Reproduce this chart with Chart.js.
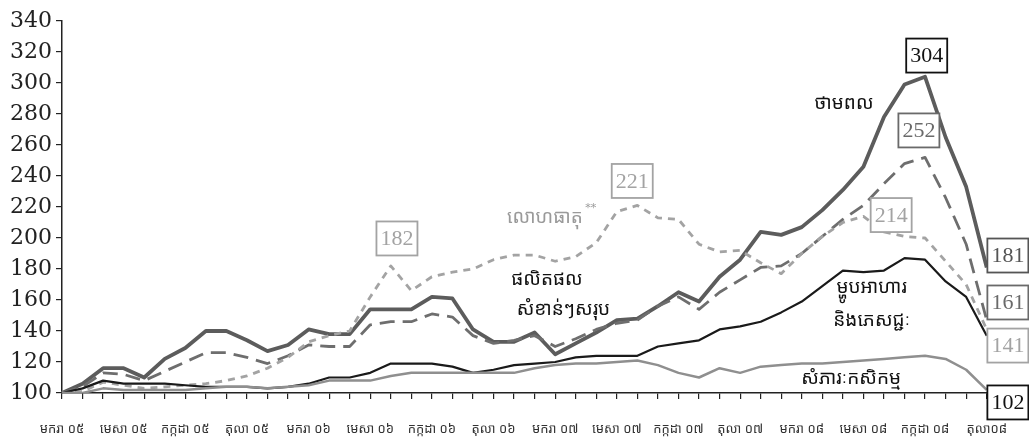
<!DOCTYPE html>
<html>
<head>
<meta charset="utf-8">
<script src="https://cdn.jsdelivr.net/npm/chart.js@4.4.1/dist/chart.umd.min.js"></script>
<style>
  body { margin: 0; background: #fff; }
  #wrap { width: 1029px; height: 443px; position: relative; }
</style>
</head>
<body>
<div id="wrap"><canvas id="chart"></canvas></div>
<script>
// months Jan 05 .. Oct 08, one point per month
const categories = [
  "មករា ០៥", "កុម្ភៈ ០៥", "មីនា ០៥", "មេសា ០៥", "ឧសភា ០៥", "មិថុនា ០៥",
  "កក្កដា ០៥", "សីហា ០៥", "កញ្ញា ០៥", "តុលា ០៥", "វិច្ឆិកា ០៥", "ធ្នូ ០៥",
  "មករា ០៦", "កុម្ភៈ ០៦", "មីនា ០៦", "មេសា ០៦", "ឧសភា ០៦", "មិថុនា ០៦",
  "កក្កដា ០៦", "សីហា ០៦", "កញ្ញា ០៦", "តុលា ០៦", "វិច្ឆិកា ០៦", "ធ្នូ ០៦",
  "មករា ០៧", "កុម្ភៈ ០៧", "មីនា ០៧", "មេសា ០៧", "ឧសភា ០៧", "មិថុនា ០៧",
  "កក្កដា ០៧", "សីហា ០៧", "កញ្ញា ០៧", "តុលា ០៧", "វិច្ឆិកា ០៧", "ធ្នូ ០៧",
  "មករា ០៨", "កុម្ភៈ ០៨", "មីនា ០៨", "មេសា ០៨", "ឧសភា ០៨", "មិថុនា ០៨",
  "កក្កដា ០៨", "សីហា ០៨", "កញ្ញា ០៨", "តុលា០៨"
];

const yTicks = [100, 120, 140, 160, 180, 200, 220, 240, 260, 280, 300, 320, 340];

// ថាមពល (energy)
const energy = [
  100, 106, 116, 116, 110, 122, 129, 140, 140, 134, 127, 131,
  141, 138, 138, 154, 154, 154, 162, 161, 141, 133, 133, 139,
  125, 132, 139, 147, 148, 156, 165, 159, 175, 186, 204, 202,
  207, 218, 231, 246, 278, 299, 304, 265, 233, 181
];
// ផលិតផលសំខាន់ៗសរុប (total main products)
const total = [
  100, 104, 113, 112, 108, 114, 120, 126, 126, 123, 119, 124,
  131, 130, 130, 144, 146, 146, 151, 149, 137, 132, 134, 137,
  130, 135, 141, 145, 147, 156, 162, 154, 165, 173, 181, 182,
  190, 201, 212, 221, 235, 248, 252, 226, 196, 147
];
// លោហធាតុ (metals)
const metals = [
  100, 101, 107, 105, 103, 104, 105, 106, 108, 111, 116, 123,
  133, 137, 140, 162, 182, 166, 175, 178, 180, 186, 189, 189,
  185, 188, 197, 217, 221, 213, 212, 196, 191, 192, 184, 177,
  190, 201, 210, 214, 204, 201, 200, 185, 170, 141
];
// ម្ហូបអាហារនិងភេសជ្ជៈ (food and beverages)
const food = [
  100, 103, 108, 106, 106, 106, 105, 104, 104, 104, 103, 104,
  106, 110, 110, 113, 119, 119, 119, 117, 113, 115, 118, 119,
  120, 123, 124, 124, 124, 130, 132, 134, 141, 143, 146, 152,
  159, 169, 179, 178, 179, 187, 186, 172, 162, 137
];
// សំភារៈកសិកម្ម (agricultural inputs)
const agri = [
  100, 100, 103, 102, 102, 102, 102, 103, 104, 104, 103, 104,
  105, 108, 108, 108, 111, 113, 113, 113, 113, 113, 113, 116,
  118, 119, 119, 120, 121, 118, 113, 110, 116, 113, 117, 118,
  119, 119, 120, 121, 122, 123, 124, 122, 115, 102
];

const numFont = "'DejaVu Serif', 'Liberation Serif', serif";
const boxFont = "'Liberation Serif', serif";
const khFont = "'Noto Sans Khmer', 'Noto Serif Khmer', 'Khmer OS', 'DejaVu Sans', sans-serif";

// text placed on the chart: anchor at (category index, value)
const notes = [
  { text: "304", i: 42.08, v: 317.7, color: "#111", box: true },
  { text: "252", i: 41.7, v: 269.4, color: "#6a6a6a", box: true },
  { text: "221", i: 27.75, v: 236.8, color: "#a3a3a3", box: true },
  { text: "182", i: 16.3, v: 199.7, color: "#a3a3a3", box: true },
  { text: "214", i: 40.35, v: 214.8, color: "#a3a3a3", box: true },
  { text: "181", i: 46.03, v: 188.7, color: "#555", box: true },
  { text: "161", i: 46.03, v: 158.4, color: "#6a6a6a", box: true },
  { text: "141", i: 46.03, v: 130.6, color: "#a3a3a3", box: true },
  { text: "102", i: 46.03, v: 93.9, color: "#111", box: true },
  { text: "ថាមពល", i: 38.05, v: 287, color: "#111" },
  { text: "លោហធាតុ", i: 23.5, v: 213, color: "#9a9a9a", star: true },
  { text: "ផលិតផល", i: 23.6, v: 173, color: "#111" },
  { text: "សំខាន់ៗសរុប", i: 24.4, v: 154, color: "#111" },
  { text: "ម្ហូបអាហារ", i: 39.4, v: 167.7, color: "#111" },
  { text: "និងភេសជ្ជៈ", i: 39.4, v: 147, color: "#111" },
  { text: "សំភារៈកសិកម្ម", i: 38.4, v: 109, color: "#111" }
];

const notePlugin = {
  id: "notes",
  afterDatasetsDraw(chart) {
    const ctx = chart.ctx;
    const xs = chart.scales.x, ys = chart.scales.y;
    const x0 = xs.getPixelForValue(0), x1 = xs.getPixelForValue(1);
    ctx.save();
    ctx.textAlign = "center";
    ctx.textBaseline = "middle";
    notes.forEach(n => {
      const px = x0 + (x1 - x0) * n.i;
      const py = ys.getPixelForValue(n.v);
      if (n.box) {
        ctx.font = "22px " + boxFont;
        const w = ctx.measureText(n.text).width + 8;
        const h = 34;
        ctx.fillStyle = "#fff";
        ctx.fillRect(px - w / 2, py - h / 2, w, h);
        ctx.strokeStyle = n.color;
        ctx.lineWidth = 1.8;
        ctx.strokeRect(px - w / 2, py - h / 2, w, h);
        ctx.fillStyle = n.color;
        ctx.fillText(n.text, px, py + 1);
      } else {
        ctx.font = "19px " + khFont;
        ctx.fillStyle = n.color;
        ctx.fillText(n.text, px, py);
        if (n.star) {
          const w = ctx.measureText(n.text).width;
          ctx.font = "11px " + numFont;
          ctx.fillText("**", px + w / 2 + 8, py - 10);
        }
      }
    });
    ctx.restore();
  }
};

const line = (data, color, width, dash) => ({
  data: data,
  borderColor: color,
  borderWidth: width,
  borderDash: dash,
  pointRadius: 0,
  tension: 0,
  borderJoinStyle: "round",
  fill: false
});

new Chart(document.getElementById("chart"), {
  type: "line",
  plugins: [notePlugin],
  data: {
    labels: categories,
    datasets: [
      line(agri, "#8f8f8f", 2.5, []),
      line(food, "#1a1a1a", 2.2, []),
      line(metals, "#a3a3a3", 2.8, [7, 6]),
      line(total, "#6e6e6e", 2.8, [15, 8]),
      line(energy, "#5c5c5c", 3.8, [])
    ]
  },
  options: {
    responsive: true,
    maintainAspectRatio: false,
    animation: false,
    layout: { padding: { top: 21, right: 41, left: 0, bottom: 0 } },
    plugins: { legend: { display: false }, tooltip: { enabled: false } },
    scales: {
      x: {
        offset: false,
        afterFit: s => { s.height = 50; },
        border: { color: "#222", width: 1.5 },
        grid: { drawOnChartArea: false, drawTicks: true, tickLength: 6, color: "#222", lineWidth: 1.2 },
        ticks: {
          autoSkip: false, maxRotation: 0, minRotation: 0, padding: 22,
          color: "#333", font: { family: khFont, size: 13 },
          callback: function (val, idx) { return idx % 3 === 0 ? this.getLabelForValue(val) : ""; }
        }
      },
      y: {
        min: 100, max: 340,
        afterFit: s => { s.width = 62; },
        afterBuildTicks: s => { s.ticks = yTicks.map(v => ({ value: v })); },
        border: { color: "#222", width: 1.5 },
        grid: { drawOnChartArea: false, drawTicks: true, tickLength: 6, color: "#222", lineWidth: 1.2 },
        ticks: { autoSkip: false, color: "#222", padding: 4, font: { family: numFont, size: 22 } }
      }
    }
  }
});
</script>
</body>
</html>
